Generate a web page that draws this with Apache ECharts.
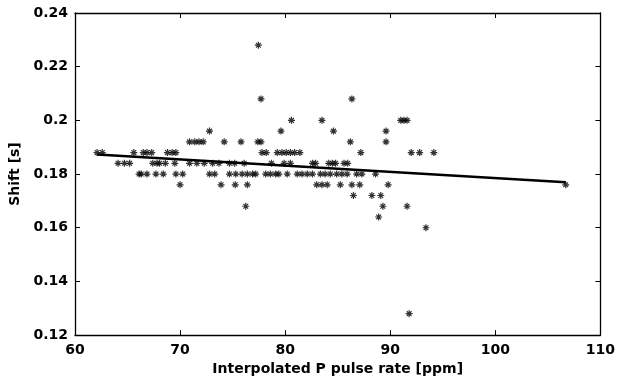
<!DOCTYPE html>
<html>
<head>
<meta charset="utf-8">
<script src="https://cdn.jsdelivr.net/npm/echarts@6/dist/echarts.min.js"></script>
<style>
  html, body { margin: 0; padding: 0; background: #fff; }
  #chart { width: 618px; height: 381px; }
</style>
</head>
<body>
<div id="chart"></div>
<script>
// pulse rates (ppm), grouped by the shift (s) they sit at
var shift_0228 = [77.45]
var shift_0208 = [77.7, 86.35]
var shift_0200 = [80.6, 83.5, 91.0, 91.3, 91.6]
var shift_0196 = [72.8, 79.6, 84.6, 89.6]
var shift_0192 = [70.9, 71.4, 71.8, 72.2, 74.2, 75.8, 77.4, 77.7, 86.2, 89.6]
var shift_0188 = [62.1, 62.6, 65.6, 66.5, 66.85, 67.3, 68.8, 69.25, 69.6, 77.8, 78.2, 79.25,
  79.7, 80.1, 80.5, 80.9, 81.4, 87.2, 92.0, 92.8, 94.15]
var shift_0184 = [64.1, 64.7, 65.2, 67.4, 67.8, 68.05, 68.6, 69.5, 70.9, 71.6, 72.3, 73.1,
  73.7, 74.7, 75.2, 76.1, 78.7, 79.9, 80.5, 82.6, 82.9, 84.15, 84.5, 84.8, 85.6, 85.95]
var shift_0180 = [66.1, 66.3, 66.85, 67.7, 68.4, 69.6, 70.25, 72.8, 73.3, 74.7, 75.3, 75.9,
  76.4, 76.9, 77.2, 78.15, 78.6, 79.1, 79.4, 80.2, 81.15, 81.6, 82.1, 82.6, 83.35, 83.8,
  84.3, 84.9, 85.4, 85.9, 86.8, 87.3, 88.6]
var shift_0176 = [70.0, 73.9, 75.25, 76.4, 83.0, 83.5, 84.0, 85.25, 86.35, 87.1, 89.8, 106.7]
var shift_0172 = [86.5, 88.25, 89.1]
var shift_0168 = [76.25, 89.3, 91.6]
var shift_0164 = [88.9]
var shift_0160 = [93.4]
var shift_0128 = [91.8]

// regression line end points
var fitX = [62.1, 106.7]
var fitY = [0.1873, 0.1769]

var xTicks = [60, 70, 80, 90, 100, 110]
var yTicks = [0.12, 0.14, 0.16, 0.18, 0.2, 0.22, 0.24]

var groups = [
  [0.228, shift_0228], [0.208, shift_0208], [0.200, shift_0200], [0.196, shift_0196],
  [0.192, shift_0192], [0.188, shift_0188], [0.184, shift_0184], [0.180, shift_0180],
  [0.176, shift_0176], [0.172, shift_0172], [0.168, shift_0168], [0.164, shift_0164],
  [0.160, shift_0160], [0.128, shift_0128]
]
var points = []
groups.forEach(function (g) {
  g[1].forEach(function (x) { points.push([x, g[0]]) })
})
var fitLine = fitX.map(function (x, i) { return [x, fitY[i]] })

var font = 'DejaVu Sans'
var label = { fontFamily: font, fontWeight: 'bold', fontSize: 14, color: '#000' }
var line = { lineStyle: { color: '#000', width: 1.3 } }
var tick = { show: true, inside: true, length: 5, lineStyle: { color: '#000', width: 1 } }

var chart = echarts.init(document.getElementById('chart'))
chart.setOption({
  animation: false,
  grid: { left: 75, right: 15, top: 13, bottom: 41, containLabel: false },
  xAxis: [{
    type: 'value', min: 60, max: 110, interval: 10,
    axisLine: line, axisTick: tick, splitLine: { show: false },
    axisLabel: Object.assign({ margin: 8 }, label),
    name: 'Interpolated P pulse rate [ppm]', nameLocation: 'middle', nameGap: 26,
    nameTextStyle: label
  }, {
    type: 'value', position: 'top', min: 60, max: 110, interval: 10,
    axisLine: line, axisTick: tick, axisLabel: { show: false }, splitLine: { show: false }
  }],
  yAxis: [{
    type: 'value', min: 0.12, max: 0.24, interval: 0.02,
    axisLine: line, axisTick: tick, splitLine: { show: false },
    axisLabel: Object.assign({
      margin: 7,
      formatter: function (v) { return String(parseFloat(v.toFixed(2))) }
    }, label),
    name: 'Shift [s]', nameLocation: 'middle', nameGap: 52,
    nameTextStyle: label
  }, {
    type: 'value', position: 'right', min: 0.12, max: 0.24, interval: 0.02,
    axisLine: line, axisTick: tick, axisLabel: { show: false }, splitLine: { show: false }
  }],
  series: [{
    type: 'scatter',
    data: points,
    symbol: 'path://M0,5L10,5M5,0L5,10M1.6,1.6L8.4,8.4M8.4,1.6L1.6,8.4',
    symbolSize: 7,
    itemStyle: { color: 'transparent', borderColor: '#000', borderWidth: 1.2 }
  }, {
    type: 'line',
    data: fitLine,
    symbol: 'none',
    lineStyle: { color: '#000', width: 2.5 },
    z: 3
  }]
})
</script>
</body>
</html>
